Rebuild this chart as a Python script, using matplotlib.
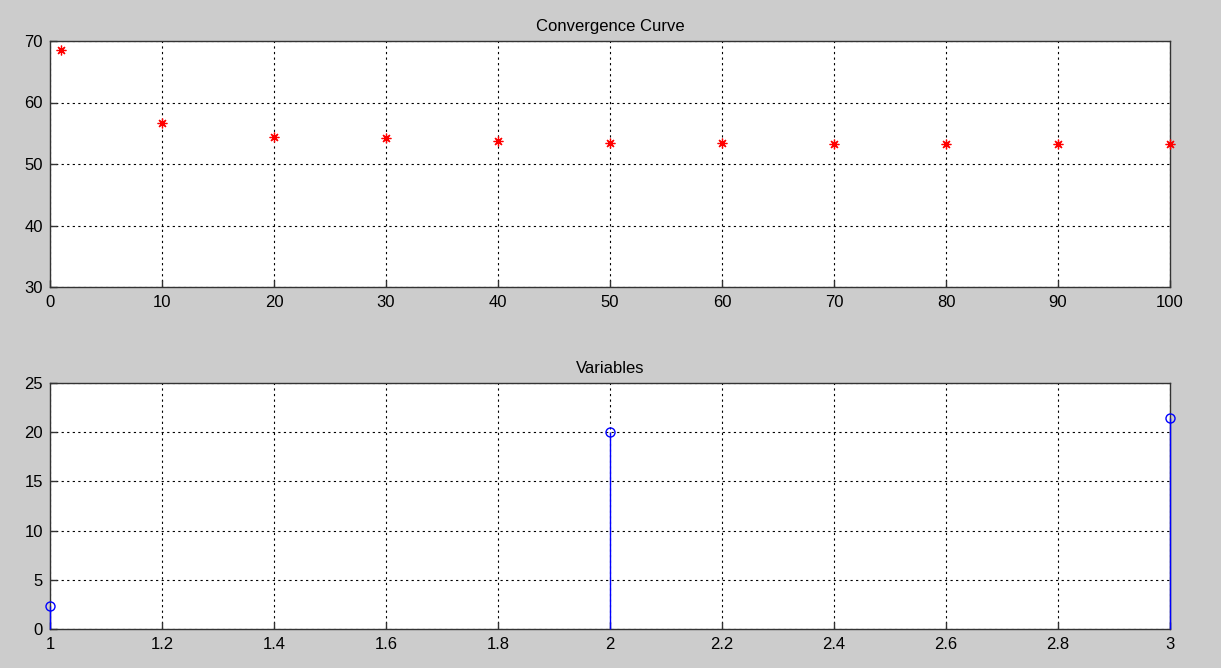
import matplotlib.pyplot as plt
import numpy as np

iterations = [1, 10, 20, 30, 40, 50, 60, 70, 80, 90, 100]
best_cost = [68.5, 56.7, 54.4, 54.2, 53.7, 53.4, 53.4, 53.3, 53.3, 53.3, 53.3]

var_index = [1, 2, 3]
var_values = [2.35, 20.0, 21.4]

plt.rcParams['font.family'] = ['Liberation Sans', 'DejaVu Sans']
plt.rcParams['font.size'] = 10


def style_axes(ax):
    ax.set_facecolor('white')
    ax.grid(True, color='black', linestyle=(0, (2, 3)), linewidth=0.8)
    ax.tick_params(direction='in', length=5, width=1, colors='#333333',
                   labelcolor='black', labelsize=12, top=False, right=False)
    ax.tick_params(axis='x', pad=6)
    ax.tick_params(axis='y', pad=5)
    for side in ax.spines.values():
        side.set_color('#333333')
        side.set_linewidth(1)


fig = plt.figure(figsize=(12.21, 6.68), dpi=100, facecolor='#cccccc')

ax1 = fig.add_axes([50 / 1221, 1 - 287 / 668, 1120 / 1221, 246 / 668])
ax1.plot(iterations, best_cost, linestyle='none', marker=(8, 2, 0),
         markersize=7, markeredgewidth=0.9, color='red', clip_on=False, zorder=5)
ax1.set_xlim(0, 100)
ax1.set_ylim(30, 70)
ax1.set_xticks(np.arange(0, 101, 10))
ax1.set_yticks(np.arange(30, 71, 10))
ax1.set_title('Convergence Curve', fontsize=12, pad=7)
style_axes(ax1)

ax2 = fig.add_axes([50 / 1221, 1 - 629 / 668, 1120 / 1221, 246 / 668])
markerline, stemlines, baseline = ax2.stem(var_index, var_values, linefmt='b-',
                                           markerfmt='bo', basefmt=' ')
markerline.set_markerfacecolor('none')
markerline.set_markersize(6.5)
markerline.set_clip_on(False)
markerline.set_zorder(5)
stemlines.set_linewidth(1)
stemlines.set_clip_on(False)
stemlines.set_zorder(5)
ax2.set_xlim(1, 3)
ax2.set_ylim(0, 25)
ax2.set_xticks(np.round(np.arange(1, 3.01, 0.2), 1))
ax2.set_xticklabels(['1', '1.2', '1.4', '1.6', '1.8', '2', '2.2', '2.4', '2.6', '2.8', '3'])
ax2.set_yticks(np.arange(0, 26, 5))
ax2.set_title('Variables', fontsize=12, pad=7)
style_axes(ax2)

fig.savefig('out.png', dpi=100, facecolor=fig.get_facecolor())
